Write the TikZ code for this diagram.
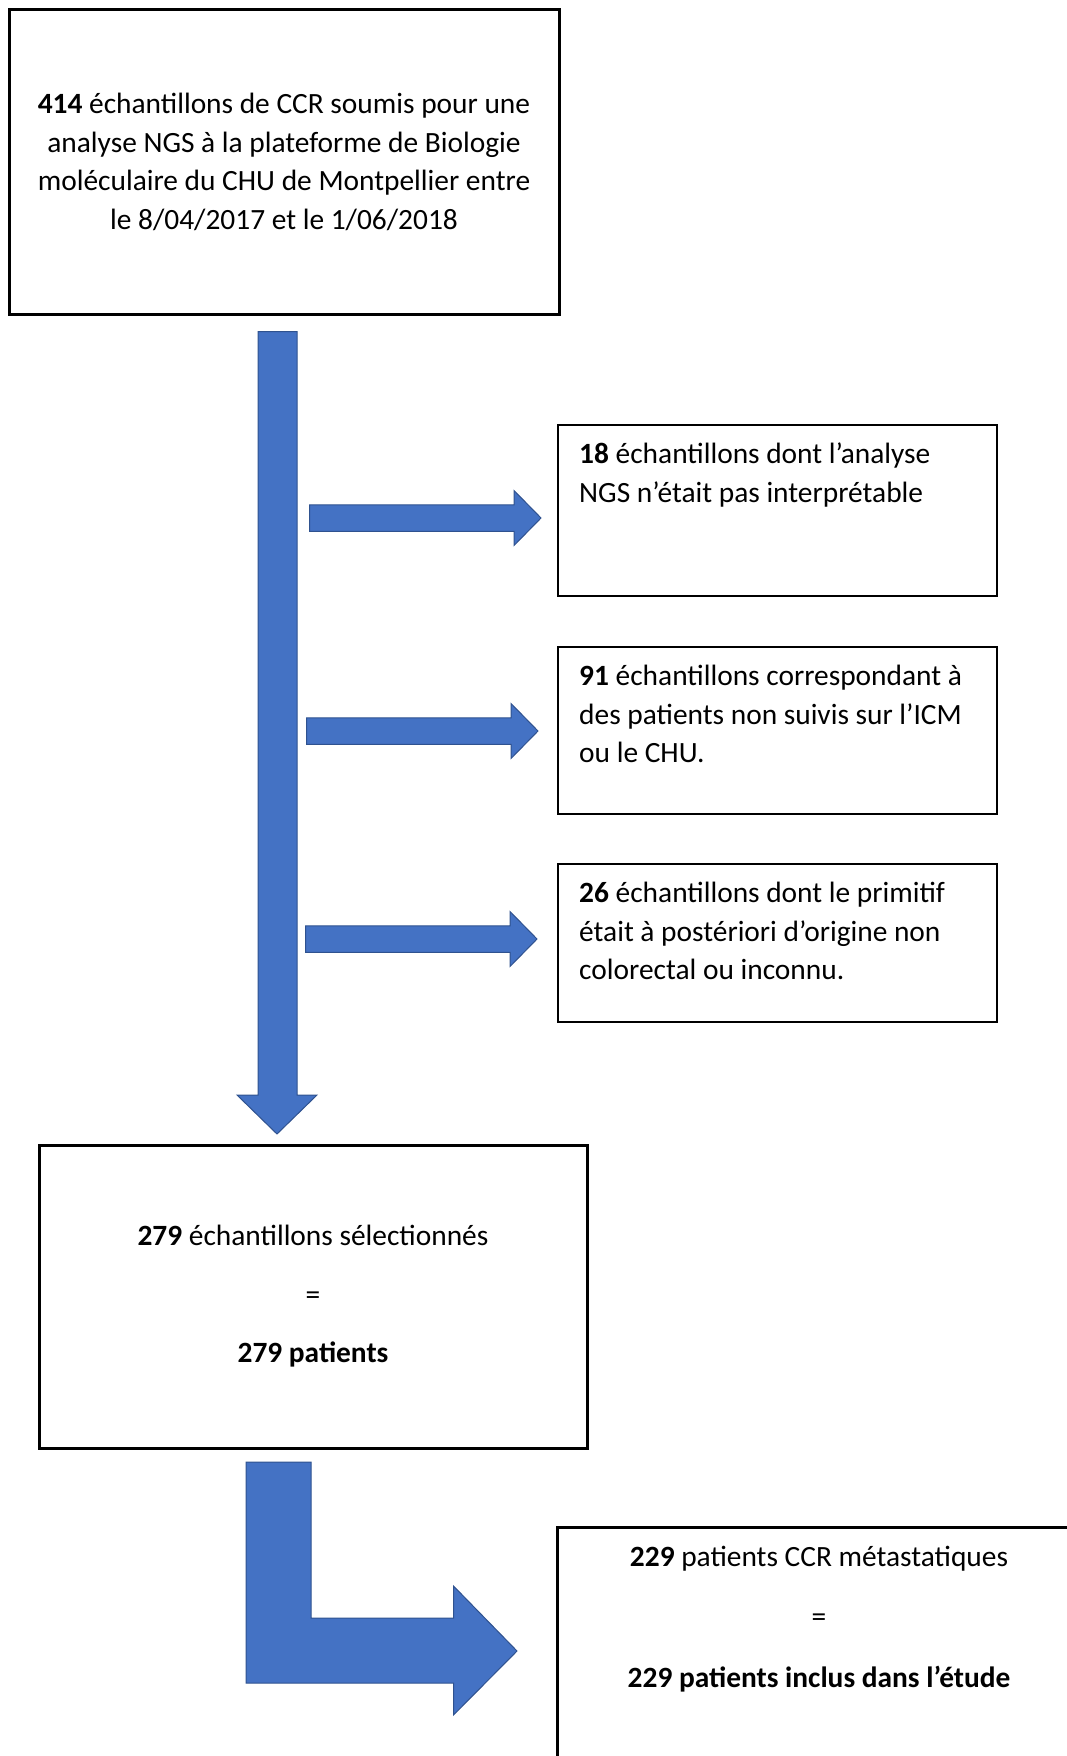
\documentclass[tikz,border=0pt]{standalone}
\usepackage{fontspec}
\setmainfont{Carlito}
\usetikzlibrary{positioning,calc}
\definecolor{arrowfill}{HTML}{4472C4}
\definecolor{arrowline}{HTML}{2F528F}
\tikzset{
  txt/.style={inner sep=0pt,font=\fontsize{29.4pt}{38.5pt}\selectfont},
  spaced/.style={inner sep=0pt,font=\fontsize{29.4pt}{58.5pt}\selectfont},
  natural/.style={execute at begin node={\spaceskip=0pt\xspaceskip=0pt\relax}},
  bigbox/.style={draw,line width=3pt,inner sep=0pt,outer sep=0pt},
  sidebox/.style={draw,line width=1.2pt,inner sep=0pt,outer sep=0pt,minimum width=439pt,anchor=north west},
  sidetxt/.style={txt,natural,anchor=base west,text width=415pt,align=left},
  blockarrow/.style={fill=arrowfill,draw=arrowline,line width=1pt,line join=miter}
}

\begin{document}
\begin{tikzpicture}[x=1pt,y=-1pt]
\useasboundingbox (0,0) rectangle (1066,1756);
% boxes
\node[bigbox,txt,align=center,minimum width=550pt,minimum height=305pt] (start) at (284,162) {\textbf{414} échantillons de CCR soumis pour une\\analyse NGS à la plateforme de Biologie\\moléculaire du CHU de Montpellier entre\\le 8/04/2017 et le 1/06/2018};
\node[sidebox,minimum height=171pt] (b18) at (558,425) {};
\node[sidebox,minimum height=167pt,below=51pt of b18] (b91) {};
\node[sidebox,minimum height=158pt,below=50pt of b91] (b26) {};
\node[sidetxt] (t18) at ($(b18.north west)+(21,38.5)$) {\textbf{18} échantillons dont l’analyse\\NGS n’était pas interprétable};
\node[sidetxt] (t91) at ($(b91.north west)+(21,38.5)$) {\textbf{91} échantillons correspondant à\\des patients non suivis sur l’ICM\\ou le CHU.};
\node[sidetxt] (t26) at ($(b26.north west)+(21,38.5)$) {\textbf{26} échantillons dont le primitif\\était à postériori d’origine non\\colorectal ou inconnu.};
\node[bigbox,spaced,align=center,minimum width=548pt,minimum height=303pt] (sel) at (313,1296.5) {\textbf{279} échantillons sélectionnés\\=\\\textbf{279 patients}};
\node[bigbox,anchor=north west,minimum width=524pt,minimum height=260pt] (incl) at (557,1527) {};
% strut on the first line: its top sits .7 baselineskip above the baseline
\node[inner sep=0pt,font=\fontsize{29.4pt}{60.5pt}\selectfont,anchor=north,align=center] (tincl) at ($(incl.north west)+(262,-3.3)$) {\strut\textbf{229} patients CCR métastatiques\\=\\\textbf{229 patients inclus dans l’étude}};
% arrows
\coordinate (downtip) at (277,1134);
\coordinate (tip18) at (541,518);
\coordinate (tip91) at (538,731);
\coordinate (tip26) at (537,939);
\coordinate (ltip) at (517,1651);
\draw[blockarrow] (downtip) -- ++(-40,-39) -- ++(21,0) -- ++(0,-763.5) -- ++(39,0) -- ++(0,763.5) -- ++(20,0) -- cycle;
\foreach \tip in {tip18,tip91,tip26}
  \draw[blockarrow] (\tip) -- ++(-27,-27.5) -- ++(0,14.25) -- ++(-204.5,0) -- ++(0,26.5) -- ++(204.5,0) -- ++(0,14.25) -- cycle;
\draw[blockarrow] (ltip) -- ++(-63.5,-65) -- ++(0,32) -- ++(-142.5,0) -- ++(0,-156) -- ++(-65,0) -- ++(0,221) -- ++(207.5,0) -- ++(0,32) -- cycle;
\end{tikzpicture}
\end{document}
